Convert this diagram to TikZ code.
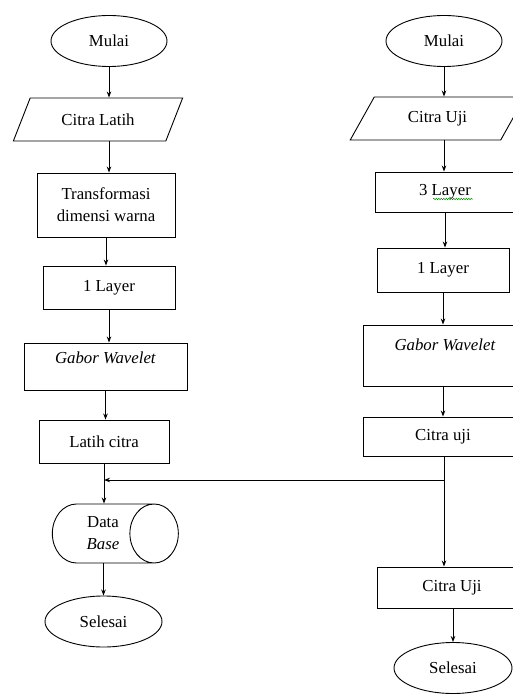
\documentclass[tikz,border=0pt]{standalone}
\usepackage{fontspec}
\setmainfont{Liberation Serif}
\usetikzlibrary{positioning,arrows.meta,shapes.geometric,decorations.pathmorphing}

\begin{document}
\begin{tikzpicture}[x=1pt, y=-1pt, line width=0.9pt,
    every node/.style={draw, align=center, inner sep=0pt,
                       font=\fontsize{16.8}{22}\selectfont},
    term/.style={ellipse, minimum width=116pt, minimum height=51pt},
    io/.style={trapezium, trapezium left angle=52.5, trapezium right angle=127.5,
               trapezium stretches=true, minimum height=43pt},
    proc/.style={rectangle, minimum height=43pt},
    db/.style={cylinder, shape aspect=1.46, minimum width=59pt, minimum height=126pt},
    >={Stealth[length=6pt,width=4.5pt]}]
    \useasboundingbox (0,0) rectangle (513,695);
    \clip (0,0) rectangle (513,695);

    % training side
    \node (mulaiL) [term] at (109,41) {Mulai};
    \node (citraL) [io, minimum width=170pt] at (98,119.5) {Citra Latih};
    \node (transf) [proc, minimum width=138pt, minimum height=64pt] at (106,205) {Transformasi\\dimensi warna};
    \node (layerL) [proc, minimum width=132pt] at (109,287.5) {1 Layer};
    \node (gaborL) [proc, minimum width=163pt, minimum height=47pt] at (105.5,366.5) {\textit{Gabor Wavelet}\\[-4pt] \mbox{}};
    \node (latih) [proc, minimum width=130pt] at (104,441.5) {Latih citra};
    \node (dbase) [db] at (103,533.5) {Data\\\textit{Base}};
    \node (selesaiL) [term, minimum width=117pt] at (103.5,621.5) {Selesai};

    % testing side
    \node (mulaiR) [term] at (444,41) {Mulai};
    \node (citraR) [io, minimum width=175pt] at (437.5,118.5) {Citra Uji};
    \node (layer3) [proc, minimum width=140pt, minimum height=40pt] at (445,192) {3 Layer};
    \node (layerR) [proc, minimum width=132pt, minimum height=44pt] at (443,270) {1 Layer};
    \node (gaborR) [proc, minimum width=164pt, minimum height=61pt] at (445,355.5) {\textit{Gabor Wavelet}\\ \mbox{}};
    \node (cujiR) [proc, minimum width=160pt, minimum height=39pt] at (443,436.5) {Citra uji};
    \node (cujiR2) [proc, minimum width=150pt, minimum height=41pt] at (452,587.5) {Citra Uji};
    \node (selesaiR) [term, minimum width=118pt] at (453,668) {Selesai};
    \coordinate (jn) at (444,480);

    \draw[green!55!black, line width=0.5pt, decorate,
          decoration={snake, amplitude=0.7pt, segment length=2.5pt}] (433,199) -- (473,199);

    \draw[->] (mulaiL) -- (mulaiL |- citraL.north);
    \draw[->] (citraL.south -| mulaiL) -- (mulaiL |- transf.north);
    \draw[->] (transf.south) -- (transf.south |- layerL.north);
    \draw[->] (layerL.south) -- (layerL.south |- gaborL.north);
    \draw[->] (gaborL.south) -- (gaborL.south |- latih.north);
    \draw[->] (latih.south) -- (latih.south |- dbase.north);
    \draw[->] (dbase.south -| selesaiL) -- (selesaiL);

    \draw[->] (mulaiR) -- (mulaiR |- citraR.north);
    \draw[->] (citraR.south -| mulaiR) -- (mulaiR |- layer3.north);
    \draw[->] (layer3.south) -- (layer3.south |- layerR.north);
    \draw[->] (layerR.south) -- (layerR.south |- gaborR.north);
    \draw[->] (gaborR.south -| layerR) -- (layerR |- cujiR.north);
    \draw (cujiR.south -| jn) -- (jn);
    \draw[->] (jn) -- (jn -| latih.south);
    \draw[->] (jn) -- (jn |- cujiR2.north);
    \draw[->] (cujiR2.south -| selesaiR) -- (selesaiR);
\end{tikzpicture}
\end{document}
